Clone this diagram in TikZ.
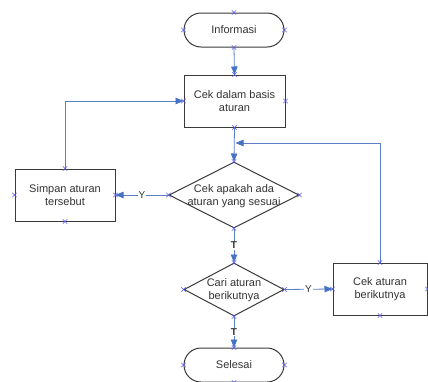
\documentclass[tikz,border=0pt]{standalone}
\usepackage{fontspec}
\setmainfont{Liberation Sans}
\usetikzlibrary{arrows.meta,shapes.geometric}
\definecolor{bord}{HTML}{3A3A3A}
\definecolor{conn}{HTML}{5B7FC9}
\definecolor{tip}{HTML}{4472C4}
\definecolor{xmc}{HTML}{5A5AF0}
\definecolor{txt}{HTML}{333333}
\tikzset{
  every node/.style={font=\fontsize{11}{13}\selectfont, text=txt},
  term/.style={draw=bord, line width=1pt, rounded corners=17pt, minimum width=100pt, minimum height=34pt, inner sep=0pt},
  proc/.style={draw=bord, line width=1pt, minimum width=#1, minimum height=52pt, align=center, inner sep=0pt},
  dec/.style={draw=bord, line width=1pt, diamond, inner sep=0pt, minimum width=#1},
  dtext/.style={align=center, inner sep=0pt},
  conline/.style={draw=conn, line width=0.8pt, -{Triangle[length=8pt,width=6.5pt,color=tip]}},
  lbl/.style={fill=white, inner sep=1pt, font=\fontsize{10}{12}\selectfont},
  pics/xm/.style={code={\draw[xmc, line width=0.6pt] (-2.2,-2.2)--(2.2,2.2) (-2.2,2.2)--(2.2,-2.2);}}
}
\begin{document}
\begin{tikzpicture}[x=1pt,y=-1pt]
\useasboundingbox[fill=white] (0,0) rectangle (428,381);
\node[term] (inf) at (234,30) {Informasi};
\node[proc=101pt, align=center] (cek) at (234.5,101) {Cek dalam basis\\aturan};
\node[dec=130pt, minimum height=66pt] (d1) at (234,195) {};
\node[dtext] (d1t) at (234,196) {Cek apakah ada\\aturan yang sesuai};
\node[proc=100pt] (simpan) at (65,195) {Simpan aturan\\tersebut};
\node[dec=100pt, minimum height=53pt] (d2) at (234,289.5) {};
\node[dtext] (d2t) at (234,290) {Cari aturan\\berikutnya};
\node[proc=94pt] (cekat) at (380,289) {Cek aturan\\berikutnya};
\node[term] (sel) at (234,365) {Selesai};
\coordinate (j) at (235.5,143);
% connectors
\draw[conline] (inf.south) -- (cek.north);
\draw[conline] (cek.south) -- (d1.north);
\draw[conline] (d1.west) -- node[lbl]{Y} (simpan.east);
\draw[conline] (simpan.north) |- (cek.west);
\draw[conline] (d1.south) -- node[lbl, pos=0.5]{\textbf{T}} (d2.north);
\draw[conline] (d2.east) -- node[lbl]{Y} (cekat.west);
\draw[conline] (d2.south) -- node[lbl]{\textbf{T}} (sel.north);
\draw[conline] (cekat.north) |- (j);
% connection point markers
\foreach \n in {inf,cek,d1,simpan,d2,cekat,sel}{
  \pic at (\n.north) {xm};
  \pic at (\n.south) {xm};
  \pic at (\n.east) {xm};
  \pic at (\n.west) {xm};
}
\end{tikzpicture}
\end{document}
